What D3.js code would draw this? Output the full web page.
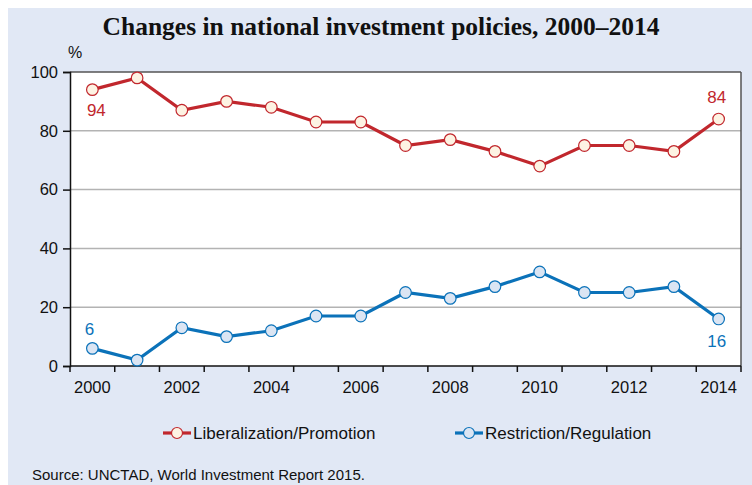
<!DOCTYPE html>
<html><head><meta charset="utf-8">
<script src="https://cdn.jsdelivr.net/npm/d3@7"></script>
<style>body{margin:0;background:#fff}svg{display:block}</style>
</head><body>
<script>
const years = [2000,2001,2002,2003,2004,2005,2006,2007,2008,2009,2010,2011,2012,2013,2014];
const liberalization = [94,98,87,90,88,83,83,75,77,73,68,75,75,73,84];
const restriction = [6,2,13,10,12,17,17,25,23,27,32,25,25,27,16];
const yTicks = [0,20,40,60,80,100];
const xTickLabels = [2000,2002,2004,2006,2008,2010,2012,2014];
const seriesNames = ["Liberalization/Promotion","Restriction/Regulation"];

const W=752,H=485;
const svg=d3.select("body").append("svg").attr("width",W).attr("height",H);
svg.append("rect").attr("x",8).attr("y",8).attr("width",W-8).attr("height",H-8).attr("fill","#e1e8f5");

const L=70,R=741,T=72,B=366;
const x=d3.scaleBand().domain(years).range([L,R]);
const y=d3.scaleLinear().domain([0,100]).range([B,T]);

svg.append("rect").attr("x",L).attr("y",T).attr("width",R-L).attr("height",B-T).attr("fill","#fff");

// gridlines
svg.append("g").selectAll("line").data(yTicks.filter(d=>d>0&&d<100)).join("line")
 .attr("x1",L).attr("x2",R).attr("y1",d=>y(d)).attr("y2",d=>y(d))
 .attr("stroke","#b3b3b3").attr("stroke-width",1.5);
// top and right frame
svg.append("line").attr("x1",L).attr("x2",R).attr("y1",T).attr("y2",T).attr("stroke","#555").attr("stroke-width",1.5);
svg.append("line").attr("x1",R).attr("x2",R).attr("y1",T).attr("y2",B).attr("stroke","#555").attr("stroke-width",1.5);

// y axis
const yAxis=svg.append("g").attr("transform",`translate(${L},0)`)
 .call(d3.axisLeft(y).tickValues(yTicks).tickSize(7).tickPadding(5));
yAxis.select(".domain").attr("stroke","#111").attr("stroke-width",1.5);
yAxis.selectAll(".tick line").attr("stroke","#111").attr("stroke-width",1.5);
yAxis.selectAll("text").attr("font-family","Liberation Sans, Arial").attr("font-size",16.5).attr("fill","#111");

// x axis: ticks at band edges
const xg=svg.append("g");
xg.append("line").attr("x1",L).attr("x2",R).attr("y1",B).attr("y2",B).attr("stroke","#111").attr("stroke-width",1.5);
const edges=years.map(d=>x(d)).concat([x(years[years.length-1])+x.bandwidth()]);
xg.selectAll(".xt").data(edges).join("line").attr("class","xt")
 .attr("x1",d=>d).attr("x2",d=>d).attr("y1",B).attr("y2",B+6).attr("stroke","#111").attr("stroke-width",1.5);
xg.selectAll(".xl").data(xTickLabels).join("text").attr("class","xl")
 .attr("x",d=>x(d)+x.bandwidth()/2).attr("y",B+27).attr("text-anchor","middle")
 .attr("font-family","Liberation Sans, Arial").attr("font-size",16.5).attr("fill","#111").text(d=>d);

svg.append("text").attr("x",75).attr("y",58).attr("text-anchor","middle")
 .attr("font-family","Liberation Sans, Arial").attr("font-size",16).attr("fill","#111").text("%");

svg.append("text").attr("x",381).attr("y",35).attr("text-anchor","middle")
 .attr("font-family","Liberation Serif, Times New Roman").attr("font-weight","bold").attr("font-size",25.5)
 .attr("fill","#111").text("Changes in national investment policies, 2000\u20132014");

const series=[
 {name:seriesNames[0],vals:liberalization,color:"#c1272d",fill:"#fdf3e3"},
 {name:seriesNames[1],vals:restriction,color:"#0b72b9",fill:"#dbe5f3"}
];
const cx=d=>x(d)+x.bandwidth()/2;
series.forEach(s=>{
 const data=years.map((yr,i)=>({yr,v:s.vals[i]}));
 svg.append("path").datum(data).attr("fill","none").attr("stroke",s.color).attr("stroke-width",3.2)
  .attr("d",d3.line().x(d=>cx(d.yr)).y(d=>y(d.v)));
 svg.append("g").selectAll("circle").data(data).join("circle")
  .attr("cx",d=>cx(d.yr)).attr("cy",d=>y(d.v)).attr("r",5.8)
  .attr("fill",s.fill).attr("stroke",s.color).attr("stroke-width",1.2);
});

// data labels
const lab=(xv,yv,t,c)=>svg.append("text").attr("x",xv).attr("y",yv).attr("text-anchor","middle")
 .attr("font-family","Liberation Sans, Arial").attr("font-size",17).attr("fill",c).text(t);
lab(cx(2000)+4,y(liberalization[0])+26,liberalization[0],"#c1272d");
lab(cx(2014)-2,y(liberalization[14])-16,liberalization[14],"#c1272d");
lab(cx(2000)-3,y(restriction[0])-13,restriction[0],"#0b72b9");
lab(cx(2014)-2,y(restriction[14])+28,restriction[14],"#0b72b9");

// legend
const leg=[{x:163,s:series[0]},{x:455,s:series[1]}];
leg.forEach(l=>{
 const g=svg.append("g");
 g.append("line").attr("x1",l.x).attr("x2",l.x+28).attr("y1",433).attr("y2",433).attr("stroke",l.s.color).attr("stroke-width",3.2);
 g.append("circle").attr("cx",l.x+14).attr("cy",433).attr("r",5.5).attr("fill",l.s.fill).attr("stroke",l.s.color).attr("stroke-width",1.2);
 g.append("text").attr("x",l.x+30).attr("y",439).attr("font-family","Liberation Sans, Arial").attr("font-size",17)
  .attr("fill","#111").text(l.s.name);
});

svg.append("text").attr("x",32).attr("y",480).attr("font-family","Liberation Sans, Arial").attr("font-size",15)
 .attr("fill","#111").text("Source: UNCTAD, World Investment Report 2015.");
</script>
</body></html>
